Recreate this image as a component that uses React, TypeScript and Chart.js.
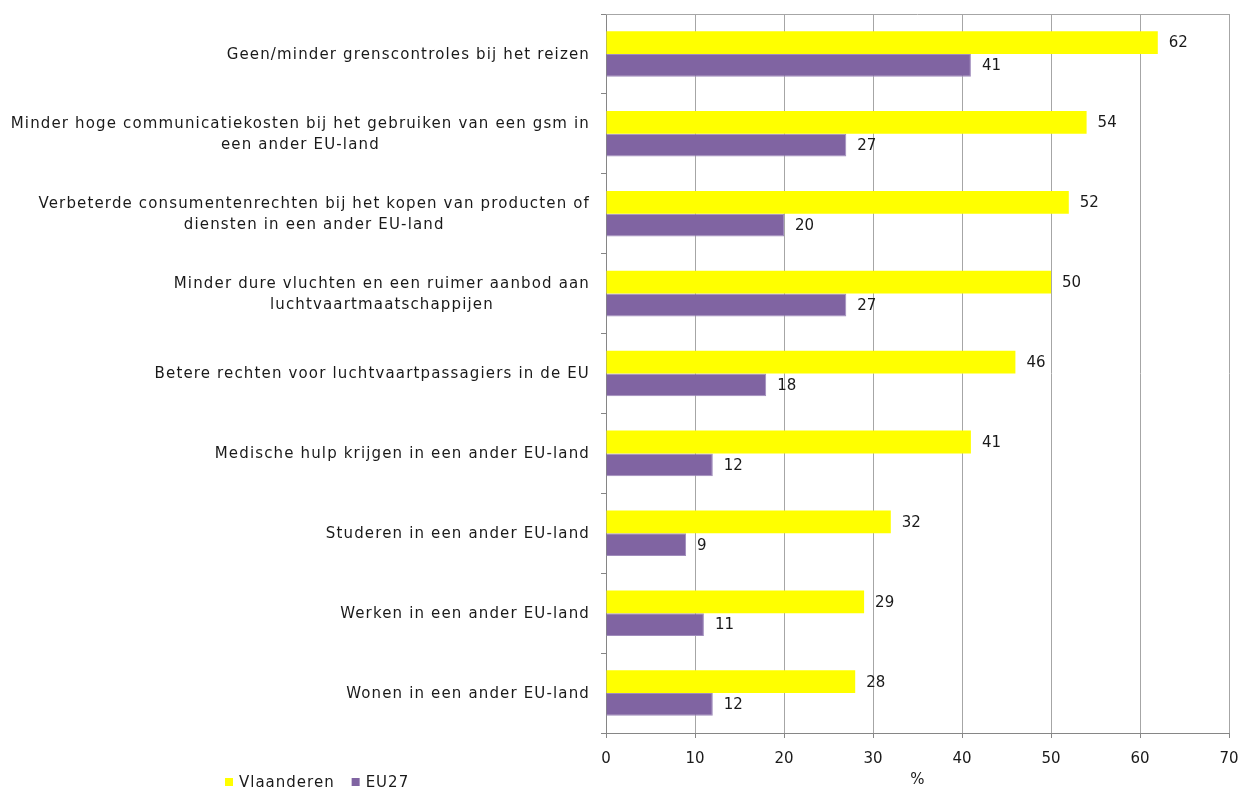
import React, { useEffect, useRef } from "react";
import { Chart, registerables } from "chart.js";

Chart.register(...registerables);

const categories: string[][] = [
  ["Geen/minder grenscontroles bij het reizen"],
  ["Minder hoge communicatiekosten bij het gebruiken van een gsm in", "een ander EU-land"],
  ["Verbeterde consumentenrechten bij het kopen van producten of", "diensten in een ander EU-land"],
  ["Minder dure vluchten en een ruimer aanbod aan", "luchtvaartmaatschappijen"],
  ["Betere rechten voor luchtvaartpassagiers in de EU"],
  ["Medische hulp krijgen in een ander EU-land"],
  ["Studeren in een ander EU-land"],
  ["Werken in een ander EU-land"],
  ["Wonen in een ander EU-land"],
];

const vlaanderen = [62, 54, 52, 50, 46, 41, 32, 29, 28];
const eu27 = [41, 27, 20, 27, 18, 12, 9, 11, 12];

const seriesNames = ["Vlaanderen", "EU27"];
const axisTitle = "%";
const xMin = 0;
const xMax = 70;
const xStep = 10;

const FONT = "'DejaVu Sans', Verdana, sans-serif";
const TEXT = "#1a1a1a";
const YELLOW = "#FFFF00";
const PURPLE = "#8064A2";

const frame = {
  id: "frame",
  beforeDatasetsDraw(chart: any) {
    const { ctx, chartArea: a } = chart;
    ctx.save();
    ctx.strokeStyle = "#a6a6a6";
    ctx.lineWidth = 1;
    ctx.beginPath();
    ctx.moveTo(a.left, Math.round(a.top) + 0.5);
    ctx.lineTo(a.right, Math.round(a.top) + 0.5);
    ctx.stroke();
    ctx.restore();
  },
};

const catLabels = {
  id: "catLabels",
  afterDraw(chart: any) {
    const { ctx } = chart;
    const y = chart.scales.y;
    ctx.save();
    ctx.font = `15px ${FONT}`;
    (ctx as any).letterSpacing = "1.15px";
    ctx.fillStyle = TEXT;
    ctx.textBaseline = "middle";
    ctx.textAlign = "center";
    const right = y.right - 16;
    const lh = 21;
    categories.forEach((lines, i) => {
      const cy = y.getPixelForTick(i) + 1;
      const widest = Math.max(...lines.map((l) => ctx.measureText(l).width));
      const cx = right - widest / 2;
      const start = cy - ((lines.length - 1) * lh) / 2;
      lines.forEach((l, j) => ctx.fillText(l, cx, start + j * lh));
    });
    ctx.restore();
  },
};

const valueLabels = {
  id: "valueLabels",
  afterDatasetsDraw(chart: any) {
    const { ctx } = chart;
    ctx.save();
    ctx.font = `15px ${FONT}`;
    ctx.fillStyle = TEXT;
    ctx.textBaseline = "middle";
    ctx.textAlign = "left";
    chart.data.datasets.forEach((ds: any, di: number) => {
      const meta = chart.getDatasetMeta(di);
      meta.data.forEach((bar: any, i: number) => {
        ctx.fillText(String(ds.data[i]), bar.x + 11, bar.y + 1);
      });
    });
    ctx.restore();
  },
};

const bottomLegend = {
  id: "bottomLegend",
  afterDraw(chart: any) {
    const { ctx } = chart;
    ctx.save();
    ctx.font = `15px ${FONT}`;
    (ctx as any).letterSpacing = "1px";
    ctx.textBaseline = "middle";
    ctx.textAlign = "left";
    let x = 225;
    const yTop = 778;
    chart.data.datasets.forEach((ds: any) => {
      ctx.fillStyle = ds.backgroundColor;
      ctx.fillRect(x, yTop, 8, 8);
      ctx.fillStyle = TEXT;
      ctx.fillText(ds.label, x + 14, yTop + 5);
      x += 14 + ctx.measureText(ds.label).width + 17;
    });
    ctx.restore();
  },
};

export default function App() {
  const ref = useRef<HTMLCanvasElement | null>(null);

  useEffect(() => {
    if (!ref.current) return;
    const chart = new Chart(ref.current, {
      type: "bar",
      data: {
        labels: categories.map((c) => c.join(" ")),
        datasets: [
          {
            label: seriesNames[0],
            data: vlaanderen,
            backgroundColor: YELLOW,
            borderWidth: 0,
            categoryPercentage: 0.57,
            barPercentage: 1,
          },
          {
            label: seriesNames[1],
            data: eu27,
            backgroundColor: PURPLE,
            borderColor: "#a08cbc",
            borderWidth: 1,
            categoryPercentage: 0.57,
            barPercentage: 1,
          },
        ],
      },
      options: {
        indexAxis: "y",
        animation: false,
        responsive: false,
        layout: { padding: { top: 14, right: 12, left: 0, bottom: 0 } },
        plugins: {
          legend: { display: false },
          tooltip: { enabled: false },
        },
        scales: {
          x: {
            min: xMin,
            max: xMax,
            ticks: {
              stepSize: xStep,
              color: TEXT,
              font: { family: FONT, size: 15 },
              padding: 12,
            },
            grid: {
              color: "#a6a6a6",
              tickLength: 5,
              tickColor: "#868686",
            },
            border: { color: "#868686" },
            title: {
              display: true,
              text: axisTitle,
              color: TEXT,
              font: { family: FONT, size: 15 },
              padding: { top: 0, bottom: -2 },
            },
            afterFit(s: any) {
              s.height = 54;
              s.paddingRight = 0;
              s.paddingLeft = 0;
            },
          },
          y: {
            ticks: { display: false },
            grid: {
              drawOnChartArea: false,
              drawTicks: true,
              tickLength: 5,
              color: "#868686",
              offset: true,
            },
            border: { color: "#868686" },
            afterFit(s: any) {
              s.width = 606;
            },
          },
        },
      },
      plugins: [frame, catLabels, valueLabels, bottomLegend],
    } as any);
    return () => chart.destroy();
  }, []);

  return (
    <div style={{ position: "fixed", left: 0, top: 0, width: 1241, height: 787, background: "#fff" }}>
      <canvas ref={ref} width={1241} height={787} />
    </div>
  );
}
